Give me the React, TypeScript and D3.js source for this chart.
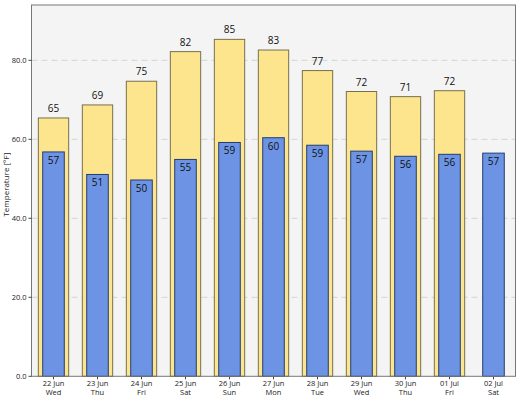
import React from "react";
import * as d3 from "d3";

const dates = ["22 Jun", "23 Jun", "24 Jun", "25 Jun", "26 Jun", "27 Jun", "28 Jun", "29 Jun", "30 Jun", "01 Jul", "02 Jul"];
const weekdays = ["Wed", "Thu", "Fri", "Sat", "Sun", "Mon", "Tue", "Wed", "Thu", "Fri", "Sat"];
const highs: (number | null)[] = [65.4, 68.7, 74.7, 82.2, 85.3, 82.6, 77.4, 72.1, 70.8, 72.3, null];
const lows: number[] = [56.8, 51.1, 49.7, 54.9, 59.2, 60.4, 58.5, 57.0, 55.7, 56.2, 56.5];
const yTicks = [0, 20, 40, 60, 80];
const yLabel = "Temperature [°F]";

const W = 524, H = 397;
const m = { left: 31.5, right: 515.5, top: 5, bottom: 376.3 };
const FONT = "'Open Sans', 'Noto Sans', sans-serif";

export default function App() {
  const x = d3.scaleBand<string>().domain(dates).range([m.left, m.right]).padding(0);
  const y = d3.scaleLinear().domain([0, 94]).range([m.bottom, m.top]);
  const bw = x.bandwidth();
  const hiW = bw * 0.69;
  const loW = bw * 0.49;
  const fmt = d3.format(".0f");

  return (
    <div style={{ position: "absolute", left: 0, top: 0 }}>
      <svg width={W} height={H} style={{ display: "block", background: "#fff" }}>
        <rect x={m.left} y={m.top} width={m.right - m.left} height={m.bottom - m.top} fill="#f4f4f4" />
        {yTicks.filter(t => t > 0).map(t => (
          <line key={"g" + t} x1={m.left} x2={m.right} y1={y(t)} y2={y(t)} stroke="#d4d4d4" strokeWidth={1} strokeDasharray="6,4" />
        ))}
        {dates.map((d, i) => {
          const cx = (x(d) as number) + bw / 2;
          const h = highs[i];
          return (
            <g key={d}>
              {h != null && (
                <g>
                  <rect x={cx - hiW / 2} y={y(h)} width={hiW} height={y(0) - y(h)} fill="#fce58c" stroke="#77704f" strokeWidth={1} />
                  <text x={cx} y={y(h) - 6} textAnchor="middle" fontFamily={FONT} fontSize={10} fill="#111">{fmt(h)}</text>
                </g>
              )}
              <rect x={cx - loW / 2} y={y(lows[i])} width={loW} height={y(0) - y(lows[i])} fill="#6d94e4" stroke="#233d6e" strokeWidth={1} />
              <text x={cx} y={y(lows[i]) + 12} textAnchor="middle" fontFamily={FONT} fontSize={10} fill="#111">{fmt(lows[i])}</text>
              <line x1={cx} x2={cx} y1={m.bottom} y2={m.bottom + 3} stroke="#444" />
              <text x={cx} y={m.bottom + 10} textAnchor="middle" fontFamily={FONT} fontSize={7.5} fill="#222">{d}</text>
              <text x={cx} y={m.bottom + 19} textAnchor="middle" fontFamily={FONT} fontSize={7.5} fill="#222">{weekdays[i]}</text>
            </g>
          );
        })}
        <rect x={m.left} y={m.top} width={m.right - m.left} height={m.bottom - m.top} fill="none" stroke="#777" strokeWidth={1} />
        {yTicks.map(t => (
          <g key={"t" + t}>
            <line x1={m.left - 3} x2={m.left} y1={y(t)} y2={y(t)} stroke="#444" />
            <text x={m.left - 5} y={y(t) + 2.5} textAnchor="end" fontFamily={FONT} fontSize={7.5} fill="#222">{d3.format(".1f")(t)}</text>
          </g>
        ))}
        <text transform={`translate(9, ${(m.top + m.bottom) / 2 - 6}) rotate(-90)`} textAnchor="middle" fontFamily={FONT} fontSize={8} fill="#222">{yLabel}</text>
      </svg>
    </div>
  );
}
